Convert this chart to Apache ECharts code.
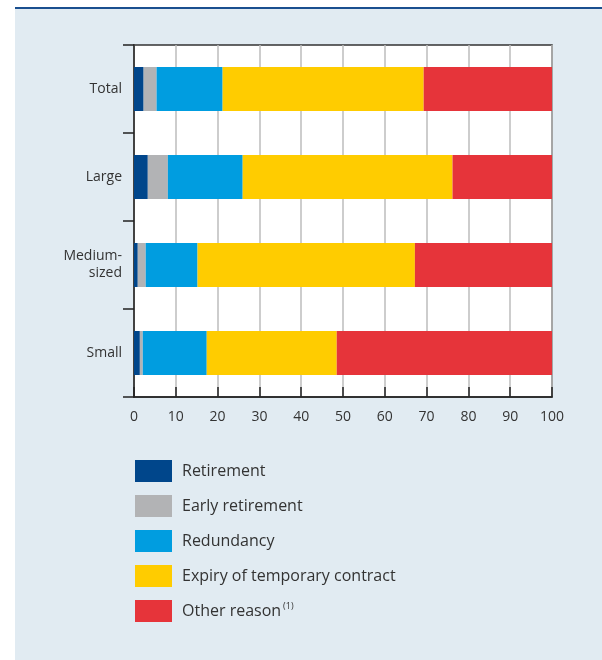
<!DOCTYPE html>
<html>
<head>
<meta charset="utf-8">
<script src="https://cdn.jsdelivr.net/npm/echarts@6/dist/echarts.min.js"></script>
<style>html,body{margin:0;padding:0;background:#fff}#c{width:602px;height:660px}</style>
</head>
<body>
<div id="c"></div>
<script>
const categories = ['Total', 'Large', 'Medium-\nsized', 'Small'];
const retirement = [2.3, 3.3, 0.9, 1.4];
const earlyRetirement = [3.1, 4.8, 1.9, 0.7];
const redundancy = [15.8, 17.9, 12.4, 15.3];
const expiry = [48.1, 50.2, 52.0, 31.1];
const otherReason = [30.7, 23.8, 32.8, 51.5];
const xTicks = [0, 10, 20, 30, 40, 50, 60, 70, 80, 90, 100];
const seriesNames = ['Retirement', 'Early retirement', 'Redundancy', 'Expiry of temporary contract', 'Other reason'];
const seriesValues = [retirement, earlyRetirement, redundancy, expiry, otherReason];
const colors = ['#00468b', '#b2b3b5', '#009de0', '#ffcc00', '#e6343a'];

const chart = echarts.init(document.getElementById('c'), null, {renderer: 'canvas'});
const font = '"Open Sans", "Noto Sans", sans-serif';
chart.setOption({
  animation: false,
  textStyle: {fontFamily: font},
  graphic: [
    {type: 'rect', z: -10, shape: {x: 15, y: 7, width: 587, height: 653}, style: {fill: '#e1ebf2'}},
    {type: 'rect', z: -9, shape: {x: 15, y: 7, width: 587, height: 2}, style: {fill: '#1a4f8f'}}
  ],
  grid: {left: 134, right: 50, top: 45, bottom: 263, show: true, backgroundColor: '#fff', borderColor: '#333', borderWidth: 1.5},
  xAxis: {
    type: 'value', min: 0, max: 100, interval: 10,
    axisLine: {show: true, lineStyle: {color: '#222', width: 1.5}},
    axisTick: {show: true, inside: true, length: 10, lineStyle: {color: '#222', width: 1.5}},
    splitLine: {show: true, lineStyle: {color: '#bdbdbd', width: 1.5}},
    axisLabel: {fontSize: 14, color: '#333', margin: 13, fontFamily: font,
      formatter: v => xTicks.includes(v) ? String(v) : ''}
  },
  yAxis: {
    type: 'category', data: categories, inverse: true,
    axisLine: {show: true, lineStyle: {color: '#222', width: 1.5}},
    axisTick: {show: true, length: 11, lineStyle: {color: '#222', width: 1.5}},
    axisLabel: {fontSize: 14, color: '#333', margin: 12, lineHeight: 17, align: 'right', fontFamily: font}
  },
  legend: {
    orient: 'vertical', left: 135, top: 460, padding: 0,
    itemWidth: 37, itemHeight: 22, itemGap: 13, icon: 'rect',
    data: seriesNames,
    textStyle: {fontSize: 16, color: '#333', padding: [0, 0, 0, 5], fontFamily: font,
      rich: {sup: {fontSize: 9, color: '#333', padding: [0, 0, 9, 2], fontFamily: font}}},
    formatter: n => n === 'Other reason' ? 'Other reason{sup|(1)}' : n
  },
  series: seriesNames.map((n, i) => ({
    name: n, type: 'bar', stack: 'total', barWidth: '50%',
    data: seriesValues[i], itemStyle: {color: colors[i]}
  }))
});
</script>
</body>
</html>
